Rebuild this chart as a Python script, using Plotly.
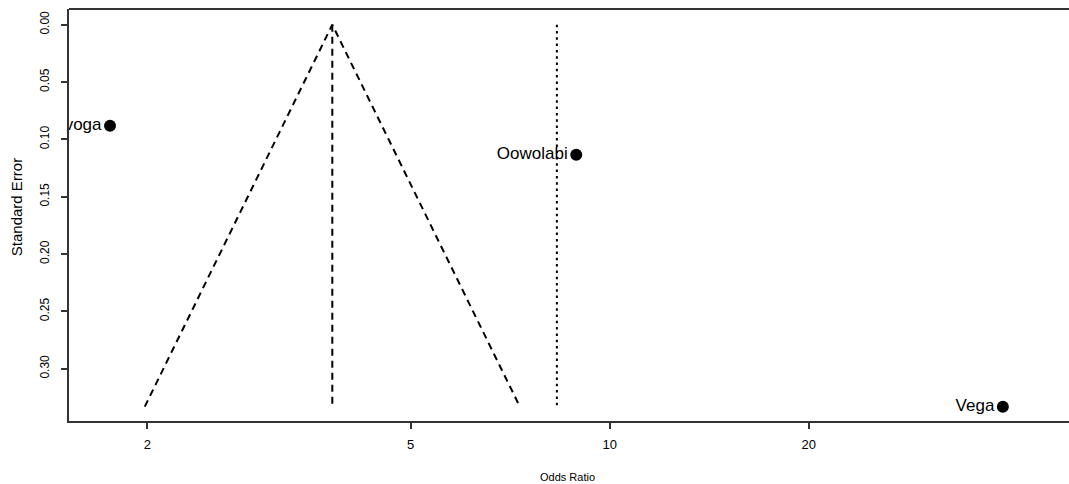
import numpy as np
import plotly.graph_objects as go

# ---- data ----
study_names = ["voga", "Oowolabi", "Vega"]
odds_ratio = [1.756, 8.90, 39.3]
std_error = [0.0881, 0.1134, 0.3331]

summary_or = 3.807          # pooled estimate (funnel apex)
reference_or = 8.32         # dotted reference line
se_max = 0.3331             # funnel depth
x_ticks = [2, 5, 10, 20]
y_ticks = [0.00, 0.05, 0.10, 0.15, 0.20, 0.25, 0.30]
y_tick_text = ["0.00", "0.05", "0.10", "0.15", "0.20", "0.25", "0.30"]

FONT = "Liberation Sans, Arial, sans-serif"

# funnel (pseudo 95% limits)
funnel_x = [np.exp(np.log(summary_or) - 1.96 * se_max), summary_or,
            np.exp(np.log(summary_or) + 1.96 * se_max)]
funnel_y = [se_max, 0.0, se_max]

fig = go.Figure()

fig.add_trace(go.Scatter(x=funnel_x, y=funnel_y, mode="lines",
                         line=dict(color="black", width=2, dash="7px,5px"),
                         hoverinfo="skip", showlegend=False))
fig.add_trace(go.Scatter(x=[summary_or, summary_or], y=[0.0, se_max], mode="lines",
                         line=dict(color="black", width=2, dash="7px,5px"),
                         hoverinfo="skip", showlegend=False))
fig.add_trace(go.Scatter(x=[reference_or, reference_or], y=[0.0, se_max], mode="lines",
                         line=dict(color="black", width=2, dash="2.5px,3.8px"),
                         hoverinfo="skip", showlegend=False))

fig.add_trace(go.Scatter(x=odds_ratio, y=std_error, mode="markers+text",
                         text=study_names, textposition="middle left",
                         textfont=dict(family=FONT, size=17, color="black"),
                         marker=dict(color="black", size=12),
                         cliponaxis=True, showlegend=False))

fig.update_layout(
    width=1069, height=484,
    margin=dict(l=69, r=0, t=9, b=63, autoexpand=False),
    plot_bgcolor="white", paper_bgcolor="white",
    font=dict(family=FONT, color="black"),
    showlegend=False,
    xaxis=dict(type="log", range=[0.1825, 1.6944], automargin=False,
               tickvals=x_ticks, ticktext=[str(v) for v in x_ticks],
               ticks="outside", ticklen=6, tickwidth=2, tickcolor="#333",
               showline=True, linecolor="#333", linewidth=2,
               showgrid=False, zeroline=False, ticklabelstandoff=4,
               tickfont=dict(size=13, family=FONT)),
    yaxis=dict(range=[0.3456, -0.0137], automargin=False,
               tickvals=y_ticks, ticktext=y_tick_text, tickangle=-90,
               ticks="outside", ticklen=6, tickwidth=2, tickcolor="#333",
               showline=True, linecolor="#333", linewidth=2,
               showgrid=False, zeroline=False, ticklabelstandoff=7,
               tickfont=dict(size=12, family=FONT)),
)

fig.add_annotation(text="Odds Ratio", xref="paper", yref="paper",
                   x=0.498, y=-0.136, xanchor="center", yanchor="middle",
                   showarrow=False, font=dict(size=11, family=FONT, color="black"))
fig.add_annotation(text="Standard Error", xref="paper", yref="paper",
                   x=-0.053, y=0.519, xanchor="center", yanchor="middle", textangle=-90,
                   showarrow=False, font=dict(size=15, family=FONT, color="black"))

fig.add_shape(type="line", xref="paper", yref="paper", x0=0, x1=1, y0=1, y1=1,
              line=dict(color="#333", width=2))

fig.write_html("out.html", config={"displayModeBar": False},
               post_script="document.body.style.margin='0';document.body.style.overflow='hidden';")
